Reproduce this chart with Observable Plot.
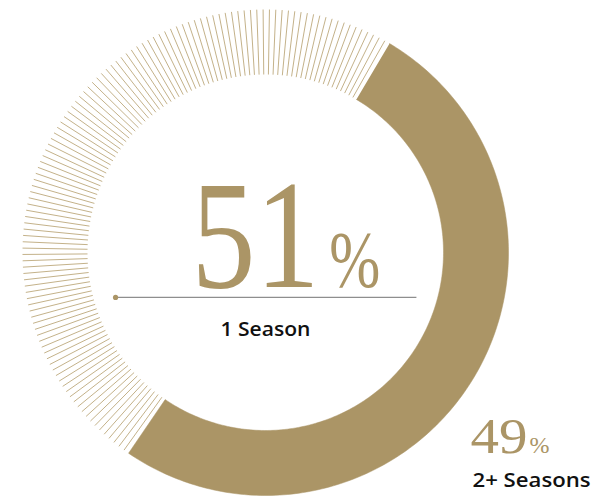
<!DOCTYPE html>
<html>
<head>
<meta charset="utf-8">
<script src="https://cdn.jsdelivr.net/npm/d3@7"></script>
<script src="https://cdn.jsdelivr.net/npm/@observablehq/plot@0.6"></script>
<style>
  html, body { margin: 0; padding: 0; background: #fff; }
  #chart { width: 598px; height: 497px; }
</style>
</head>
<body>
<div id="chart"></div>
<script>
// ---- data ----
const categories = ["1 Season", "2+ Seasons"];
const shares = [51, 49];
const shareLabels = ["51", "49"];

// ---- styling / layout constants ----
const gold = "#ab9566";
const lineGold = "#c4b28a";
const startDeg = 30.7;      // where the solid arc begins (clockwise from north)
const innerR = 0.7325;      // inner radius relative to outer
const hatchStep = 1.5;      // degrees between hatch lines
const hatchGap = 1.3;       // gap between solid arc and hatch lines

const rad = d => d * Math.PI / 180;

// Solid arc polygon (derived from the first share)
const solidSpan = shares[0] / 100 * 360;
const arcPts = [];
for (let i = 0; i <= 200; i++) {
  const a = startDeg + solidSpan * i / 200;
  arcPts.push({x: Math.sin(rad(a)), y: Math.cos(rad(a))});
}
for (let i = 200; i >= 0; i--) {
  const a = startDeg + solidSpan * i / 200;
  arcPts.push({x: innerR * Math.sin(rad(a)), y: innerR * Math.cos(rad(a))});
}

// Hatched remainder (derived from the second share)
const hatchStart = startDeg + solidSpan + hatchGap;
const hatchSpan = shares[1] / 100 * 360 - 2 * hatchGap;
const nLines = Math.round(hatchSpan / hatchStep) + 1;
const hatch = d3.range(nLines).map(i => {
  const a = rad(hatchStart + hatchSpan * i / (nLines - 1));
  return {x1: innerR * Math.sin(a), y1: innerR * Math.cos(a), x2: Math.sin(a), y2: Math.cos(a)};
});

const plot = Plot.plot({
  width: 598,
  height: 497,
  margin: 0,
  x: {domain: [-1, 1], range: [22, 508], axis: null},
  y: {domain: [-1, 1], range: [495, 9], axis: null},
  style: {background: "#fff"},
  marks: [
    Plot.link(hatch, {x1: "x1", y1: "y1", x2: "x2", y2: "y2", stroke: lineGold, strokeWidth: 1}),
    Plot.line(arcPts, {x: "x", y: "y", fill: gold, stroke: gold, strokeWidth: 0.5, curve: "linear"}),
    // center annotation
    Plot.link([categories[0]], {x1: -0.617, x2: 0.621, y1: -0.185, y2: -0.185, stroke: "#8e8e8e", strokeWidth: 1.3}),
    Plot.dot([categories[0]], {x: -0.617, y: -0.185, r: 2.6, fill: gold, stroke: "none"}),
    Plot.text([shareLabels[0]], {x: 0.222, y: -0.144, text: d => d, textAnchor: "end", lineAnchor: "bottom",
      fontFamily: "Liberation Serif", fontSize: 154, fill: gold}),
    Plot.text(["%"], {x: 0.262, y: -0.144, text: d => d, textAnchor: "start", lineAnchor: "bottom",
      fontFamily: "Liberation Serif", fontSize: 80, fill: gold}),
    Plot.text([categories[0]], {x: 0, y: -0.342, text: d => d, textAnchor: "middle", lineAnchor: "bottom",
      fontFamily: "Open Sans", fontWeight: 600, fontSize: 19, fill: "#111"}),
    // second annotation
    Plot.text([shareLabels[1]], {x: 1.078, y: -0.827, text: d => d, textAnchor: "end", lineAnchor: "bottom",
      fontFamily: "Liberation Serif", fontSize: 50, fill: gold}),
    Plot.text(["%"], {x: 1.086, y: -0.827, text: d => d, textAnchor: "start", lineAnchor: "bottom",
      fontFamily: "Liberation Serif", fontSize: 24, fill: gold}),
    Plot.text([categories[1]], {x: 0.852, y: -0.967, text: d => d, textAnchor: "start", lineAnchor: "bottom",
      fontFamily: "Open Sans", fontWeight: 600, fontSize: 20, fill: "#111"})
  ]
});

// stretch / condense glyphs to match the reference proportions
const fits = {"51": 128, "49": 57, "1 Season": 90, "2+ Seasons": 118};
d3.select(plot).selectAll("text").each(function() {
  const t = this.textContent;
  const fs = this.parentNode.getAttribute("font-size");
  if (fits[t]) d3.select(this).attr("textLength", fits[t]).attr("lengthAdjust", "spacingAndGlyphs");
  if (t === "%" && fs === "80") d3.select(this).attr("textLength", 51).attr("lengthAdjust", "spacingAndGlyphs");
});

document.getElementById("chart").appendChild(plot);
</script>
</body>
</html>
